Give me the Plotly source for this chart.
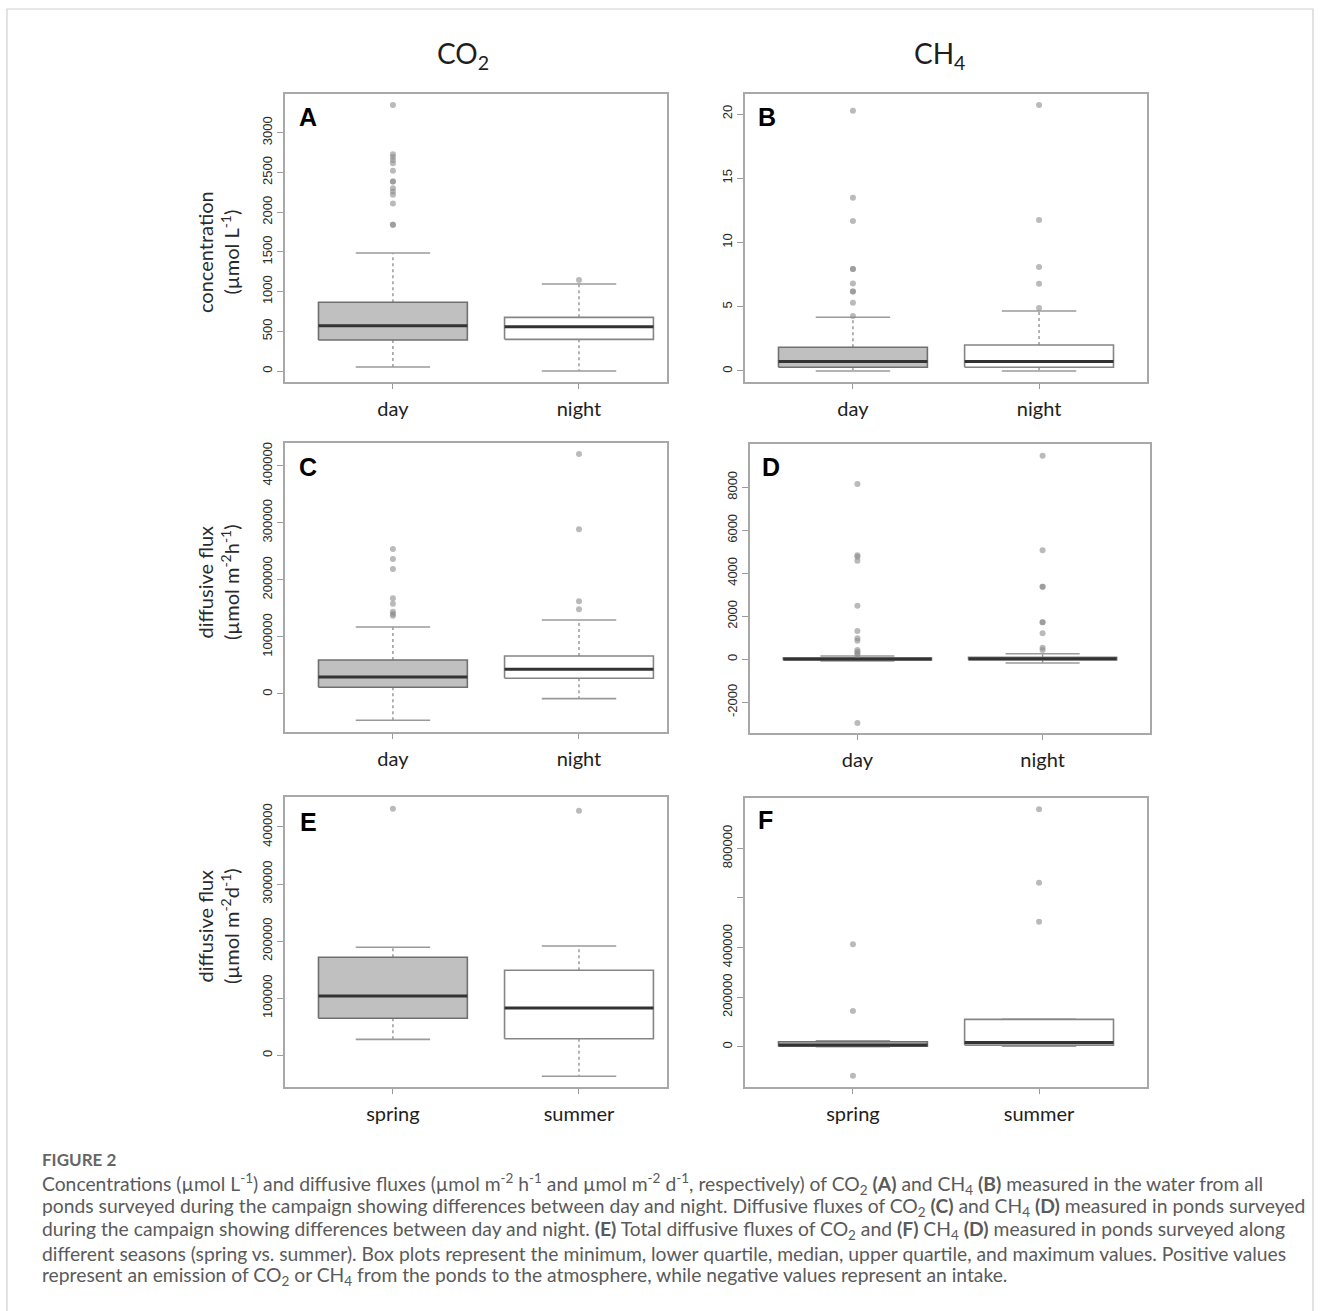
import plotly.graph_objects as go

# ---------------- data ----------------
cats_dn = ["day", "night"]
cats_season = ["spring", "summer"]

# Panel A: CO2 concentration (umol L-1)
A_q1 = [390, 399]
A_med = [570, 558]
A_q3 = [865, 676]
A_lo = [50, 0]
A_hi = [1485, 1095]
A_out_day = [3350, 2730, 2695, 2655, 2615, 2520, 2385, 2385, 2300, 2260, 2220, 2110, 1840, 1840]
A_out_night = [1146]

# Panel B: CH4 concentration
B_q1 = [0.29, 0.29]
B_med = [0.73, 0.73]
B_q3 = [1.84, 2.02]
B_lo = [0.0, 0.0]
B_hi = [4.18, 4.67]
B_out_day = [20.25, 13.49, 11.67, 7.93, 7.93, 6.81, 6.19, 6.19, 5.3, 4.27]
B_out_night = [20.7, 11.75, 8.09, 6.79, 4.9]

# Panel C: CO2 diffusive flux (umol m-2 h-1)
C_q1 = [11700, 27500]
C_med = [29800, 43200]
C_q3 = [59600, 66600]
C_lo = [-46100, -8100]
C_hi = [117400, 129600]
C_out_day = [254000, 236500, 219000, 167600, 158200, 144200, 140000, 137200]
C_out_night = [420500, 288500, 162300, 148400]

# Panel D: CH4 diffusive flux (umol m-2 h-1)
D_q1 = [-30, -25]
D_med = [20, 30]
D_q3 = [60, 95]
D_lo = [-78, -172]
D_hi = [153, 262]
D_out_day = [8153, 4837, 4775, 4588, 2494, 1316, 977, 866, 433, 356, 279, 200, -2963]
D_out_night = [9470, 5070, 3377, 3377, 1721, 1721, 1209, 540, 433]

# Panel E: CO2 diffusive flux (umol m-2 d-1), seasons
E_q1 = [64800, 29100]
E_med = [103900, 82900]
E_q3 = [171700, 148900]
E_lo = [28000, -36800]
E_hi = [189200, 191500]
E_out_spring = [432000]
E_out_summer = [428500]

# Panel F: CH4 diffusive flux (umol m-2 d-1), seasons
F_q1 = [2000, 6700]
F_med = [6700, 17500]
F_q3 = [20200, 110500]
F_lo = [0, 2000]
F_hi = [24200, 110500]
F_out_spring = [413000, 144000, -116900]
F_out_summer = [957600, 661600, 504200]

# y-axis ticks
A_ticks = [0, 500, 1000, 1500, 2000, 2500, 3000]
B_ticks = [0, 5, 10, 15, 20]
C_ticks = [0, 100000, 200000, 300000, 400000]
D_ticks = [-2000, 0, 2000, 4000, 6000, 8000]
E_ticks = [0, 100000, 200000, 300000, 400000]
F_ticks = [0, 200000, 400000, 600000, 800000]
F_ticktext = ["0", "200000", "400000", "", "800000"]

# ---------------- layout helpers ----------------
W, H = 1322, 1311

XR_LEFT = (0.42, 2.473)
XR_RIGHT = (0.42, 2.58)

panels = [
    dict(letter="A", frame=(285, 667, 94, 382), xr=XR_LEFT, yr=(-138, 3487), cats=cats_dn,
         stats=(A_q1, A_med, A_q3, A_lo, A_hi), outs=(A_out_day, A_out_night), ticks=A_ticks, tt=None,
         title="concentration<br>(µmol L<sup>-1</sup>)", tpos=(218, 252), lpos=(308, 117)),
    dict(letter="B", frame=(745, 1147, 94, 382), xr=XR_RIGHT, yr=(-0.86, 21.56), cats=cats_dn,
         stats=(B_q1, B_med, B_q3, B_lo, B_hi), outs=(B_out_day, B_out_night), ticks=B_ticks, tt=None,
         title=None, tpos=None, lpos=(767, 117)),
    dict(letter="C", frame=(285, 667, 443, 732), xr=XR_LEFT, yr=(-66600, 439700), cats=cats_dn,
         stats=(C_q1, C_med, C_q3, C_lo, C_hi), outs=(C_out_day, C_out_night), ticks=C_ticks, tt=None,
         title="diffusive flux<br>(µmol m<sup>-2</sup>h<sup>-1</sup>)", tpos=(218, 582), lpos=(308, 467)),
    dict(letter="D", frame=(750, 1150, 444, 733), xr=XR_RIGHT, yr=(-3426, 10014), cats=cats_dn,
         stats=(D_q1, D_med, D_q3, D_lo, D_hi), outs=(D_out_day, D_out_night), ticks=D_ticks, tt=None,
         title=None, tpos=None, lpos=(771, 467)),
    dict(letter="E", frame=(285, 667, 797, 1087), xr=XR_LEFT, yr=(-55500, 452500), cats=cats_season,
         stats=(E_q1, E_med, E_q3, E_lo, E_hi), outs=(E_out_spring, E_out_summer), ticks=E_ticks, tt=None,
         title="diffusive flux<br>(µmol m<sup>-2</sup>d<sup>-1</sup>)", tpos=(218, 926), lpos=(308, 822)),
    dict(letter="F", frame=(745, 1147, 798, 1087), xr=XR_RIGHT, yr=(-162300, 1003200), cats=cats_season,
         stats=(F_q1, F_med, F_q3, F_lo, F_hi), outs=(F_out_spring, F_out_summer), ticks=F_ticks, tt=F_ticktext,
         title=None, tpos=None, lpos=(765, 820)),
]

fills = ["#c0c0c0", "#ffffff"]
borders = ["#707070", "#858585"]
BW = 0.4   # half box width
CW = 0.2   # half cap width

fig = go.Figure()
annotations = []
layout_axes = {}

for i, p in enumerate(panels, start=1):
    xa = "x" if i == 1 else f"x{i}"
    ya = "y" if i == 1 else f"y{i}"
    q1s, meds, q3s, los, his = p["stats"]
    for j in range(2):
        pos = j + 1
        q1, med, q3, lo, hi = q1s[j], meds[j], q3s[j], los[j], his[j]
        # whiskers (dotted)
        fig.add_trace(go.Scatter(
            x=[pos, pos, None, pos, pos], y=[q3, hi, None, q1, lo],
            mode="lines", line=dict(color="#8c8c8c", width=1.3, dash="dot"),
            xaxis=xa, yaxis=ya, showlegend=False, hoverinfo="skip"))
        # caps
        fig.add_trace(go.Scatter(
            x=[pos - CW, pos + CW, None, pos - CW, pos + CW], y=[hi, hi, None, lo, lo],
            mode="lines", line=dict(color="#9a9a9a", width=1.6),
            xaxis=xa, yaxis=ya, showlegend=False, hoverinfo="skip"))
        # box
        fig.add_trace(go.Scatter(
            x=[pos - BW, pos + BW, pos + BW, pos - BW, pos - BW], y=[q1, q1, q3, q3, q1],
            mode="lines", fill="toself", fillcolor=fills[j],
            line=dict(color=borders[j], width=1.6),
            xaxis=xa, yaxis=ya, showlegend=False, hoverinfo="skip"))
        # median
        fig.add_trace(go.Scatter(
            x=[pos - BW, pos + BW], y=[med, med],
            mode="lines", line=dict(color="#333333", width=3),
            xaxis=xa, yaxis=ya, showlegend=False, hoverinfo="skip"))
        # outliers
        outs = p["outs"][j]
        fig.add_trace(go.Scatter(
            x=[pos] * len(outs), y=outs, mode="markers",
            marker=dict(color="rgba(140,140,140,0.6)", size=6, line=dict(width=0)),
            xaxis=xa, yaxis=ya, showlegend=False, hoverinfo="skip"))

    x0, x1, y0, y1 = p["frame"]
    xkey = "xaxis" if i == 1 else f"xaxis{i}"
    ykey = "yaxis" if i == 1 else f"yaxis{i}"
    layout_axes[xkey] = dict(
        domain=[x0 / W, x1 / W], anchor=ya, range=list(p["xr"]),
        tickmode="array", tickvals=[1, 2], ticktext=p["cats"],
        showline=True, mirror=True, linecolor="#a8a8a8", linewidth=1.5,
        ticks="outside", ticklen=5, tickcolor="#9a9a9a", tickwidth=1.2,
        ticklabelstandoff=3,
        tickfont=dict(family="Lato", size=20, color="#1e1e1e"),
        showgrid=False, zeroline=False, fixedrange=True)
    layout_axes[ykey] = dict(
        domain=[1 - y1 / H, 1 - y0 / H], anchor=xa, range=list(p["yr"]),
        tickmode="array", tickvals=p["ticks"],
        ticktext=p["tt"] if p["tt"] else [str(t) for t in p["ticks"]],
        tickangle=-90,
        showline=True, mirror=True, linecolor="#a8a8a8", linewidth=1.5,
        ticks="outside", ticklen=6, tickcolor="#9a9a9a", tickwidth=1.2,
        tickfont=dict(family="Liberation Sans", size=13, color="#2a2a2a"),
        showgrid=False, zeroline=False, fixedrange=True)

    # panel letter
    lx, ly = p["lpos"]
    annotations.append(dict(
        x=lx / W, y=1 - ly / H, xref="paper", yref="paper", text=f"<b>{p['letter']}</b>",
        showarrow=False, font=dict(family="Liberation Sans", size=25, color="#000000"),
        xanchor="center", yanchor="middle"))
    # y title
    if p["title"]:
        tx, ty = p["tpos"]
        annotations.append(dict(
            x=tx / W, y=1 - ty / H, xref="paper", yref="paper", text=p["title"],
            showarrow=False, textangle=-90,
            font=dict(family="Lato", size=20, color="#2a2a2a"),
            xanchor="center", yanchor="middle"))

# column headers
annotations.append(dict(x=463 / W, y=1 - 55 / H, xref="paper", yref="paper",
                        text="CO<sub>2</sub>", showarrow=False,
                        font=dict(family="Lato", size=28, color="#1e1e1e"),
                        xanchor="center", yanchor="middle"))
annotations.append(dict(x=940 / W, y=1 - 55 / H, xref="paper", yref="paper",
                        text="CH<sub>4</sub>", showarrow=False,
                        font=dict(family="Lato", size=28, color="#1e1e1e"),
                        xanchor="center", yanchor="middle"))

# caption
cap_font = dict(family="Lato", size=19.3, color="#5a5a5a")
annotations.append(dict(x=40 / W, y=1 - 1159 / H, xref="paper", yref="paper",
                        text="<b>FIGURE 2</b>", showarrow=False,
                        font=dict(family="Lato", size=17, color="#666666"),
                        xanchor="left", yanchor="middle"))
caption_lines = [
    "Concentrations (µmol L<sup>-1</sup>) and diffusive fluxes (µmol m<sup>-2</sup> h<sup>-1</sup> and µmol m<sup>-2</sup> d<sup>-1</sup>, respectively) of CO<sub>2</sub> <b>(A)</b> and CH<sub>4</sub> <b>(B)</b> measured in the water from all",
    "ponds surveyed during the campaign showing differences between day and night. Diffusive fluxes of CO<sub>2</sub> <b>(C)</b> and CH<sub>4</sub> <b>(D)</b> measured in ponds surveyed",
    "during the campaign showing differences between day and night. <b>(E)</b> Total diffusive fluxes of CO<sub>2</sub> and <b>(F)</b> CH<sub>4</sub> <b>(D)</b> measured in ponds surveyed along",
    "different seasons (spring vs. summer). Box plots represent the minimum, lower quartile, median, upper quartile, and maximum values. Positive values",
    "represent an emission of CO<sub>2</sub> or CH<sub>4</sub> from the ponds to the atmosphere, while negative values represent an intake.",
]
for k, line in enumerate(caption_lines):
    annotations.append(dict(x=40 / W, y=1 - (1184 + 23 * k) / H, xref="paper", yref="paper",
                            text=line, showarrow=False, font=cap_font,
                            xanchor="left", yanchor="middle"))

shapes = [dict(type="rect", xref="paper", yref="paper",
               x0=7 / W, x1=1313 / W, y0=1 - 1330 / H, y1=1 - 9 / H,
               line=dict(color="#d0d0d0", width=1.2), fillcolor="rgba(0,0,0,0)", layer="below")]

fig.update_layout(
    width=W, height=H, margin=dict(l=0, r=0, t=0, b=0),
    paper_bgcolor="white", plot_bgcolor="white",
    annotations=annotations, shapes=shapes, showlegend=False,
    **layout_axes)

fig.write_html("out.html", config={"displayModeBar": False},
               post_script="document.body.style.margin='0';document.body.style.overflow='hidden';")
